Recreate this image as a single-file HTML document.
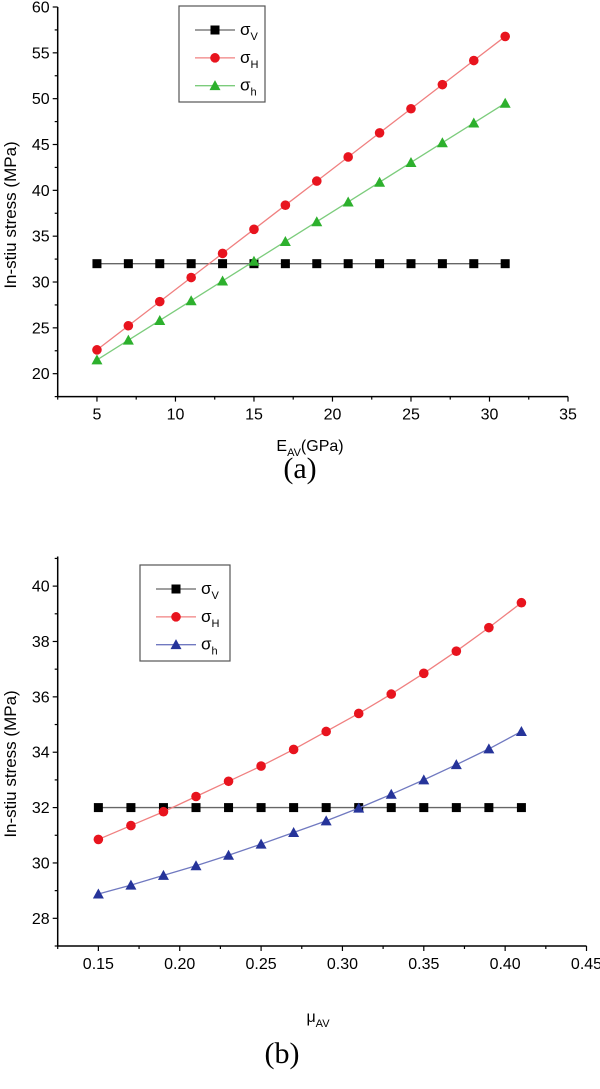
<!DOCTYPE html>
<html><head><meta charset="utf-8"><style>
body{margin:0;background:#fff;}
svg{display:block;font-family:"Liberation Sans",sans-serif;}
</style></head><body>
<svg id="s" width="600" height="1089" xmlns="http://www.w3.org/2000/svg"></svg>
<script>
const s=document.getElementById('s');let h='';
function chart(o){
 const X=v=>o.x0+(v-o.xmin)/(o.xmax-o.xmin)*(o.x1-o.x0);
 const Y=v=>o.y1-(v-o.ymin)/(o.ymax-o.ymin)*(o.y1-o.y0);
 h+=`<line x1="${o.x0}" y1="${o.y0}" x2="${o.x0}" y2="${o.y1}" stroke="#000" stroke-width="1.5"/>`;
 h+=`<line x1="${o.x0}" y1="${o.y1}" x2="${o.x1}" y2="${o.y1}" stroke="#000" stroke-width="1.5"/>`;
 for(let v=o.ymin;v<=o.ymax+1e-9;v+=o.yminor){const y=Y(v);const maj=Math.abs(((v-o.yfirst)/o.ymaj)-Math.round((v-o.yfirst)/o.ymaj))<1e-6&&v>=o.yfirst-1e-9;
  h+=`<line x1="${o.x0-(maj?5:3)}" y1="${y}" x2="${o.x0}" y2="${y}" stroke="#000" stroke-width="1.2"/>`;
  if(maj)h+=`<text x="${o.x0-8}" y="${y+5.5}" font-size="16" text-anchor="end">${o.yfmt(v)}</text>`;}
 for(let v=o.xmin;v<=o.xmax+1e-9;v+=o.xminor){const x=X(v);const r=(v-o.xfirst)/o.xmaj;const maj=Math.abs(r-Math.round(r))<1e-6&&v>=o.xfirst-1e-9;
  h+=`<line x1="${x}" y1="${o.y1}" x2="${x}" y2="${o.y1+(maj?5:3)}" stroke="#000" stroke-width="1.2"/>`;
  if(maj)h+=`<text x="${x}" y="${o.y1+23}" font-size="16" text-anchor="middle">${o.xfmt(v)}</text>`;}
 o.series.forEach(sr=>{
  const pts=sr.d.map((d,i)=>[X(o.xs[i]),Y(d)]);
  h+=`<polyline points="${pts.map(p=>p.join(',')).join(' ')}" fill="none" stroke="${sr.lc}" stroke-width="1.3"/>`;
  pts.forEach(p=>h+=mk(sr.m,p[0],p[1],sr.c));
 });
 const L=o.leg;
 h+=`<rect x="${L.x}" y="${L.y}" width="${L.w}" height="${L.h}" fill="#fff" stroke="#555" stroke-width="1.2"/>`;
 const subs=['V','H','h'];
 o.series.forEach((sr,i)=>{const y=L.y+L.h*(0.25+i*0.29);
  h+=`<line x1="${L.x+16}" y1="${y}" x2="${L.x+56}" y2="${y}" stroke="${sr.lc}" stroke-width="1.3"/>`+mk(sr.m,L.x+36,y,sr.c);
  h+=`<text x="${L.x+61}" y="${y+5}" font-size="17">σ<tspan font-size="11" dy="5">${subs[i]}</tspan></text>`;});
}
function mk(m,x,y,c){
 if(m=='s')return `<rect x="${x-4.5}" y="${y-4.5}" width="9" height="9" fill="${c}"/>`;
 if(m=='c')return `<circle cx="${x}" cy="${y}" r="4.8" fill="${c}"/>`;
 return `<polygon points="${x},${y-5.5} ${x+5.5},${y+4.5} ${x-5.5},${y+4.5}" fill="${c}"/>`;
}
const xa=[];for(let v=5;v<=31;v+=2)xa.push(v);
chart({x0:57.7,x1:568,y0:7,y1:396.6,xmin:2.5,xmax:35,ymin:17.5,ymax:60,
 yminor:2.5,ymaj:5,yfirst:20,xminor:2.5,xmaj:5,xfirst:5,yfmt:v=>v,xfmt:v=>v,xs:xa,
 series:[{d:xa.map(_=>32),c:'#000',lc:'#666',m:'s'},
  {d:xa.map(x=>22.6+(x-5)*1.315),c:'#e8141e',lc:'#f08080',m:'c'},
  {d:xa.map(x=>21.5+(x-5)*1.077),c:'#2db02d',lc:'#7ccc7c',m:'t'}],
 leg:{x:179,y:6,w:86,h:96}});
const xb=[];for(let i=0;i<14;i++)xb.push(0.15+i*0.02);
chart({x0:57.7,x1:586.5,y0:556.5,y1:946,xmin:0.125,xmax:0.45,ymin:27,ymax:41.07,
 yminor:1,ymaj:2,yfirst:28,xminor:0.025,xmaj:0.05,xfirst:0.15,yfmt:v=>Math.round(v),xfmt:v=>v.toFixed(2),xs:xb,
 series:[{d:xb.map(_=>32),c:'#000',lc:'#666',m:'s'},
  {d:[30.85,31.35,31.85,32.4,32.95,33.5,34.1,34.75,35.4,36.1,36.85,37.65,38.5,39.4],c:'#e8141e',lc:'#f08080',m:'c'},
  {d:[28.88,29.2,29.55,29.9,30.28,30.68,31.1,31.52,31.98,32.48,33.0,33.55,34.12,34.75],c:'#26349a',lc:'#7079c0',m:'t'}],
 leg:{x:140,y:565,w:90,h:96}});
h+=`<text transform="translate(16,215) rotate(-90)" font-size="17" text-anchor="middle">In-stiu stress (MPa)</text>`;
h+=`<text transform="translate(16,764) rotate(-90)" font-size="17" text-anchor="middle">In-stiu stress (MPa)</text>`;
h+=`<text x="310" y="451" font-size="16" text-anchor="middle">E<tspan font-size="11" dy="5">AV</tspan><tspan dy="-5">(GPa)</tspan></text>`;
h+=`<text x="318" y="1022" font-size="16" text-anchor="middle">μ<tspan font-size="11" dy="5">AV</tspan></text>`;
h+=`<text x="300" y="478" font-size="30" text-anchor="middle" font-family="Liberation Serif,serif">(a)</text>`;
h+=`<text x="282" y="1063" font-size="30" text-anchor="middle" font-family="Liberation Serif,serif">(b)</text>`;
s.innerHTML=h;
</script>
</body></html>
